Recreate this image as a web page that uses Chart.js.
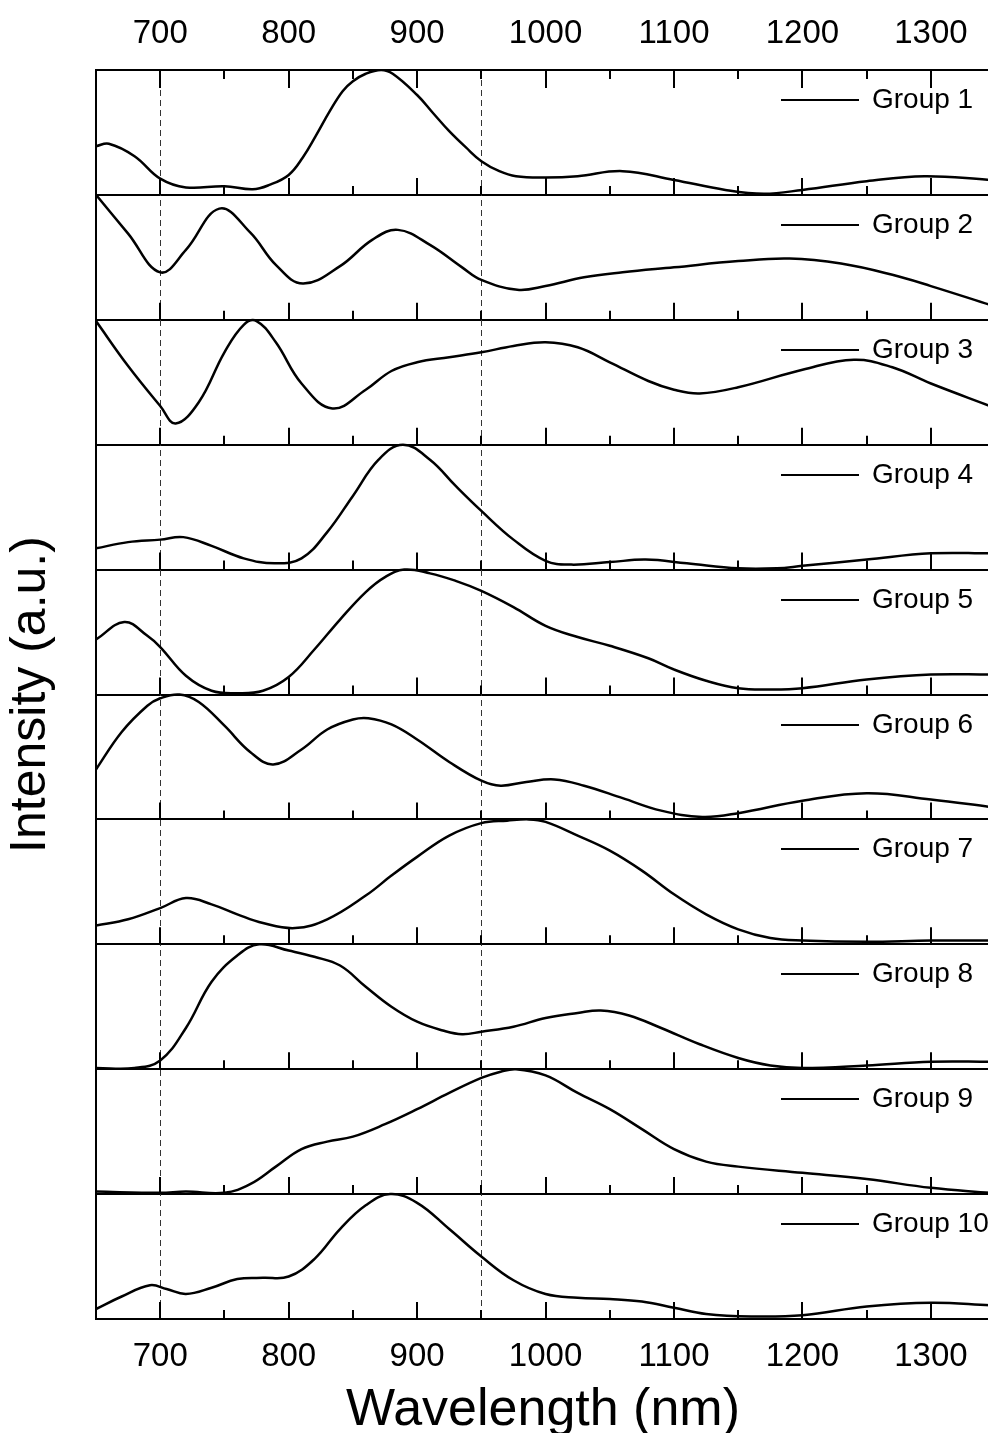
<!DOCTYPE html>
<html>
<head>
<meta charset="utf-8">
<title>Intensity spectra</title>
<script src="https://cdn.jsdelivr.net/npm/chart.js@4.4.1/dist/chart.umd.min.js"></script>
<style>
    html, body { margin: 0; padding: 0; background: #fff; overflow: hidden; }
    #spectra { display: block; }
</style>
</head>
<body>
<canvas id="spectra" width="992" height="1433"></canvas>
<script>
// wavelength axis
const tickLabels = [700, 800, 900, 1000, 1100, 1200, 1300];
const minorTicks = [750, 850, 950, 1050, 1150, 1250];
const markerLines = [700, 950];
const groupLabels = ['Group 1', 'Group 2', 'Group 3', 'Group 4', 'Group 5',
    'Group 6', 'Group 7', 'Group 8', 'Group 9', 'Group 10'];

// [wavelength (nm), relative intensity]
const group1 = [[650, 0.39], [660, 0.41], [680, 0.31], [700, 0.13], [720, 0.06], [750, 0.07], [772, 0.045],
    [785, 0.08], [800, 0.16], [811, 0.30], [821, 0.47], [832, 0.67], [842, 0.83], [850, 0.91], [860, 0.97],
    [872, 1.0], [881, 0.97], [900, 0.80], [912, 0.66], [925, 0.51], [938, 0.38], [950, 0.27], [964, 0.19],
    [977, 0.15], [1000, 0.14], [1025, 0.15], [1060, 0.19], [1100, 0.12], [1140, 0.04], [1170, 0.01],
    [1200, 0.04], [1250, 0.11], [1295, 0.15], [1346, 0.12]];
const group2 = [[650, 1.0], [675, 0.69], [700, 0.38], [720, 0.56], [746, 0.89], [770, 0.70], [790, 0.44],
    [811, 0.29], [840, 0.43], [865, 0.64], [885, 0.72], [910, 0.60], [935, 0.42], [950, 0.32], [978, 0.24],
    [1000, 0.27], [1030, 0.34], [1060, 0.38], [1100, 0.42], [1150, 0.47], [1190, 0.49], [1230, 0.45],
    [1270, 0.36], [1300, 0.27], [1346, 0.12]];
const group3 = [[650, 0.99], [675, 0.63], [700, 0.31], [712, 0.17], [730, 0.34], [750, 0.74], [765, 0.96],
    [775, 0.99], [790, 0.82], [810, 0.49], [834, 0.29], [860, 0.44], [880, 0.59], [900, 0.66], [925, 0.70],
    [950, 0.74], [975, 0.79], [1000, 0.82], [1025, 0.78], [1050, 0.66], [1080, 0.51], [1100, 0.44],
    [1120, 0.41], [1150, 0.46], [1200, 0.60], [1240, 0.68], [1270, 0.62], [1300, 0.49], [1346, 0.31]];
const group4 = [[650, 0.17], [675, 0.22], [700, 0.24], [718, 0.26], [740, 0.19], [765, 0.09], [789, 0.05],
    [810, 0.09], [830, 0.30], [850, 0.59], [870, 0.88], [889, 1.0], [910, 0.88], [930, 0.67], [950, 0.47],
    [975, 0.24], [1000, 0.07], [1020, 0.04], [1050, 0.06], [1078, 0.08], [1110, 0.05], [1150, 0.01],
    [1180, 0.01], [1200, 0.03], [1250, 0.08], [1300, 0.13], [1346, 0.13]];
const group5 = [[650, 0.44], [672, 0.58], [690, 0.47], [700, 0.38], [720, 0.15], [740, 0.03], [760, 0.01],
    [780, 0.03], [800, 0.14], [820, 0.36], [840, 0.60], [860, 0.82], [875, 0.94], [890, 1.0], [910, 0.97],
    [930, 0.91], [950, 0.83], [975, 0.70], [1000, 0.55], [1025, 0.46], [1050, 0.39], [1080, 0.29],
    [1100, 0.20], [1125, 0.11], [1150, 0.05], [1175, 0.04], [1200, 0.05], [1250, 0.12], [1300, 0.16],
    [1346, 0.16]];
const group6 = [[650, 0.40], [670, 0.70], [690, 0.91], [700, 0.97], [715, 1.0], [730, 0.94], [750, 0.75],
    [770, 0.54], [788, 0.44], [810, 0.56], [830, 0.72], [850, 0.80], [862, 0.81], [880, 0.76], [900, 0.64],
    [925, 0.46], [950, 0.31], [965, 0.27], [985, 0.30], [1007, 0.32], [1030, 0.27], [1060, 0.17],
    [1090, 0.07], [1122, 0.02], [1150, 0.05], [1200, 0.15], [1250, 0.21], [1300, 0.16], [1346, 0.10]];
const group7 = [[650, 0.15], [675, 0.20], [700, 0.29], [720, 0.37], [740, 0.32], [760, 0.24], [780, 0.17],
    [805, 0.13], [830, 0.20], [860, 0.39], [880, 0.55], [900, 0.70], [925, 0.87], [950, 0.97], [970, 0.99],
    [987, 1.0], [1000, 0.98], [1025, 0.87], [1050, 0.75], [1075, 0.59], [1100, 0.40], [1125, 0.24],
    [1150, 0.12], [1175, 0.05], [1200, 0.03], [1250, 0.02], [1300, 0.03], [1346, 0.03]];
const group8 = [[650, 0.01], [680, 0.01], [700, 0.07], [720, 0.33], [740, 0.70], [760, 0.91], [777, 1.0],
    [800, 0.95], [820, 0.90], [840, 0.83], [860, 0.66], [880, 0.50], [900, 0.38], [920, 0.31], [935, 0.28],
    [950, 0.30], [975, 0.34], [1000, 0.41], [1025, 0.45], [1043, 0.47], [1065, 0.43], [1090, 0.33],
    [1120, 0.20], [1150, 0.09], [1175, 0.03], [1200, 0.01], [1250, 0.03], [1300, 0.06], [1346, 0.06]];
const group9 = [[650, 0.02], [700, 0.01], [720, 0.02], [750, 0.01], [770, 0.08], [790, 0.22], [810, 0.36],
    [830, 0.42], [850, 0.46], [875, 0.56], [900, 0.68], [925, 0.81], [950, 0.93], [965, 0.98], [977, 1.0],
    [1000, 0.95], [1025, 0.81], [1050, 0.68], [1075, 0.52], [1100, 0.36], [1125, 0.26], [1150, 0.22],
    [1200, 0.17], [1250, 0.12], [1300, 0.05], [1346, 0.01]];
const group10 = [[650, 0.08], [670, 0.18], [692, 0.27], [705, 0.24], [720, 0.20], [740, 0.25], [760, 0.32],
    [780, 0.33], [800, 0.34], [820, 0.48], [840, 0.72], [860, 0.91], [879, 1.0], [900, 0.93], [925, 0.72],
    [950, 0.50], [975, 0.31], [1000, 0.20], [1025, 0.17], [1050, 0.16], [1075, 0.14], [1100, 0.09],
    [1125, 0.04], [1160, 0.02], [1200, 0.03], [1250, 0.10], [1300, 0.13], [1346, 0.11]];

const groups = [group1, group2, group3, group4, group5, group6, group7, group8, group9, group10];
const panelCount = groups.length;

// each group sits in its own band of the shared y axis, Group 1 on top
const datasets = groups.map(function (g, k) {
    const offset = panelCount - 1 - k;
    return {
        label: groupLabels[k],
        data: g.map(p => ({ x: p[0], y: offset + p[1] })),
        borderColor: '#000',
        borderWidth: 2.5,
        pointRadius: 0,
        fill: false,
        tension: 0.4
    };
});

const panelDecor = {
    id: 'panelDecor',
    beforeDatasetsDraw(chart) {
        const ctx = chart.ctx;
        const area = chart.chartArea;
        const x = chart.scales.x;
        ctx.save();
        ctx.strokeStyle = '#333';
        ctx.lineWidth = 1;
        ctx.setLineDash([6, 4]);
        markerLines.forEach(function (w) {
            const px = Math.round(x.getPixelForValue(w)) + 0.5;
            ctx.beginPath();
            ctx.moveTo(px, area.top);
            ctx.lineTo(px, area.bottom);
            ctx.stroke();
        });
        ctx.restore();
    },
    afterDraw(chart) {
        const ctx = chart.ctx;
        const x = chart.scales.x;
        const y = chart.scales.y;
        ctx.save();
        ctx.strokeStyle = '#000';
        ctx.lineWidth = 2;
        // inward ticks: up from every panel floor, down from the top frame
        function tick(w, py, len) {
            const px = Math.round(x.getPixelForValue(w));
            ctx.beginPath();
            ctx.moveTo(px, py);
            ctx.lineTo(px, py + len);
            ctx.stroke();
        }
        for (let i = 0; i < panelCount; i++) {
            const py = y.getPixelForValue(i);
            tickLabels.forEach(w => tick(w, py, -17));
            minorTicks.forEach(w => tick(w, py, -9));
        }
        const top = y.getPixelForValue(panelCount);
        tickLabels.forEach(w => tick(w, top, 18));
        minorTicks.forEach(w => tick(w, top, 9));

        // one legend entry per panel
        ctx.font = '28px "Liberation Sans", Arial, sans-serif';
        ctx.fillStyle = '#000';
        ctx.textBaseline = 'middle';
        chart.data.datasets.forEach(function (ds, k) {
            const py = Math.round(y.getPixelForValue(panelCount - k)) + 30;
            ctx.beginPath();
            ctx.moveTo(781, py);
            ctx.lineTo(859, py);
            ctx.stroke();
            ctx.fillText(ds.label, 872, py);
        });
        ctx.restore();
    }
};

const axisFont = { family: '"Liberation Sans", Arial, sans-serif', size: 33 };

new Chart(document.getElementById('spectra'), {
    type: 'line',
    data: { datasets: datasets },
    options: {
        responsive: false,
        animation: false,
        devicePixelRatio: 1,
        layout: { padding: { left: 0, right: 2, top: 0, bottom: 0 } },
        plugins: {
            legend: { display: false },
            tooltip: { enabled: false }
        },
        scales: {
            x: {
                type: 'linear',
                position: 'bottom',
                min: 650,
                max: 1346,
                afterBuildTicks: s => { s.ticks = tickLabels.map(v => ({ value: v })); },
                afterFit: s => { s.height = 114; },
                grid: { display: false, drawTicks: false },
                border: { display: false },
                ticks: { color: '#000', font: axisFont, padding: 18, maxRotation: 0, callback: v => String(v) },
                title: {
                    display: true,
                    text: 'Wavelength (nm)',
                    color: '#000',
                    font: { family: '"Liberation Sans", Arial, sans-serif', size: 52, lineHeight: 0.86 },
                    padding: { top: 0, bottom: 0 }
                }
            },
            x2: {
                type: 'linear',
                position: 'top',
                min: 650,
                max: 1346,
                afterBuildTicks: s => { s.ticks = tickLabels.map(v => ({ value: v })); },
                afterFit: s => { s.height = 70; },
                grid: { display: false, drawTicks: false },
                border: { display: false },
                ticks: { color: '#000', font: axisFont, padding: 16, maxRotation: 0, callback: v => String(v) }
            },
            y: {
                type: 'linear',
                min: 0,
                max: panelCount,
                afterFit: s => { s.width = 96; },
                ticks: { display: false, stepSize: 1 },
                grid: { color: '#000', lineWidth: 2, drawTicks: false },
                border: { display: true, color: '#000', width: 2 },
                title: {
                    display: true,
                    text: 'Intensity (a.u.)',
                    color: '#000',
                    font: { family: '"Liberation Sans", Arial, sans-serif', size: 50 },
                    padding: { top: 1, bottom: 0 }
                }
            }
        }
    },
    plugins: [panelDecor]
});
</script>
</body>
</html>
